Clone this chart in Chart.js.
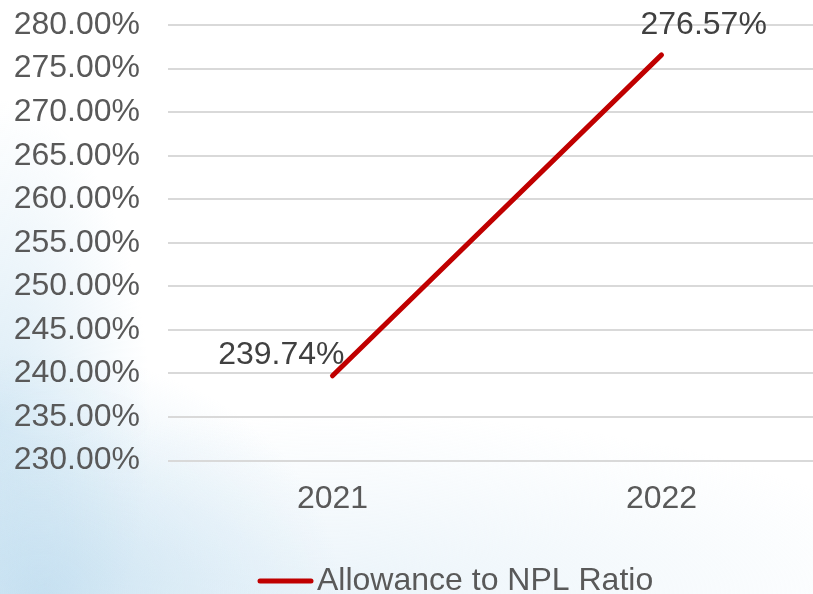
<!DOCTYPE html>
<html>
<head>
<meta charset="utf-8">
<script src="https://cdn.jsdelivr.net/npm/chart.js@4.4.0/dist/chart.umd.min.js"></script>
<style>
  html, body {
    margin: 0;
    padding: 0;
    width: 813px;
    height: 594px;
    overflow: hidden;
  }
  body {
    background:
      radial-gradient(ellipse 300px 240px at 40px 594px, rgba(175, 212, 235, 0.6), rgba(175, 212, 235, 0) 100%),
      radial-gradient(ellipse 150px 320px at 0px 420px, rgba(195, 223, 240, 0.6), rgba(195, 223, 240, 0) 100%),
      radial-gradient(ellipse 600px 180px at 330px 594px, rgba(215, 233, 245, 0.5), rgba(215, 233, 245, 0) 100%),
      #ffffff;
  }
  #wrap {
    position: absolute;
    left: 0;
    top: 0;
    width: 826px;
    height: 594px;
  }
</style>
</head>
<body>
<div id="wrap"><canvas id="ratioChart"></canvas></div>
<script>
// dữ liệu của biểu đồ
const years = ['2021', '2022'];
const allowanceRatio = [239.74, 276.57];
const seriesName = 'Allowance to NPL Ratio';
const yMin = 230;
const yMax = 280;
const yStep = 5;

const fontFamily = '"Liberation Sans", Arial, sans-serif';
const textColor = '#595959';
const lineColor = '#C00000';

// nhãn giá trị cạnh mỗi điểm
const valueLabels = {
    id: 'valueLabels',
    afterDatasetsDraw(chart) {
        const ctx = chart.ctx;
        const meta = chart.getDatasetMeta(0);
        ctx.save();
        ctx.font = '32px ' + fontFamily;
        ctx.fillStyle = '#404040';
        ctx.textBaseline = 'middle';
        meta.data.forEach((pt, i) => {
            const txt = allowanceRatio[i].toFixed(2) + '%';
            if (i === 0) {
                ctx.textAlign = 'right';
                ctx.fillText(txt, pt.x + 12, pt.y - 21);
            } else {
                ctx.textAlign = 'left';
                ctx.fillText(txt, pt.x - 21, pt.y - 30);
            }
        });
        ctx.restore();
    }
};

// chú thích ở dưới
const bottomLegend = {
    id: 'bottomLegend',
    afterDraw(chart) {
        const ctx = chart.ctx;
        const y = 581;
        ctx.save();
        ctx.strokeStyle = lineColor;
        ctx.lineWidth = 5;
        ctx.lineCap = 'round';
        ctx.beginPath();
        ctx.moveTo(260, y);
        ctx.lineTo(311, y);
        ctx.stroke();
        ctx.font = '32px ' + fontFamily;
        ctx.fillStyle = textColor;
        ctx.textAlign = 'left';
        ctx.textBaseline = 'middle';
        ctx.fillText(chart.data.datasets[0].label, 317, y);
        ctx.restore();
    }
};

const ctx = document.getElementById('ratioChart').getContext('2d');
new Chart(ctx, {
    type: 'line',
    data: {
        labels: years,
        datasets: [{
            label: seriesName,
            data: allowanceRatio,
            borderColor: lineColor,
            backgroundColor: lineColor,
            borderWidth: 5,
            borderCapStyle: 'round',
            pointRadius: 0,
            fill: false,
            tension: 0
        }]
    },
    options: {
        responsive: true,
        maintainAspectRatio: false,
        animation: false,
        layout: {
            padding: { top: 25, right: 0, bottom: 57, left: 0 }
        },
        plugins: {
            legend: { display: false },
            tooltip: { enabled: false }
        },
        scales: {
            x: {
                type: 'category',
                offset: true,
                grid: { display: false, drawTicks: false },
                border: { display: false },
                ticks: {
                    color: textColor,
                    font: { family: fontFamily, size: 32 },
                    padding: 19
                }
            },
            y: {
                min: yMin,
                max: yMax,
                grid: { color: '#d9d9d9', lineWidth: 2, drawTicks: false },
                border: { display: false },
                ticks: {
                    stepSize: yStep,
                    autoSkip: false,
                    color: textColor,
                    font: { family: fontFamily, size: 32 },
                    padding: 28,
                    callback: v => v.toFixed(2) + '%'
                },
                afterFit(scale) {
                    scale.width = 168;
                    scale.paddingTop = 0;
                    scale.paddingBottom = 0;
                }
            }
        }
    },
    plugins: [valueLabels, bottomLegend]
});
</script>
</body>
</html>
